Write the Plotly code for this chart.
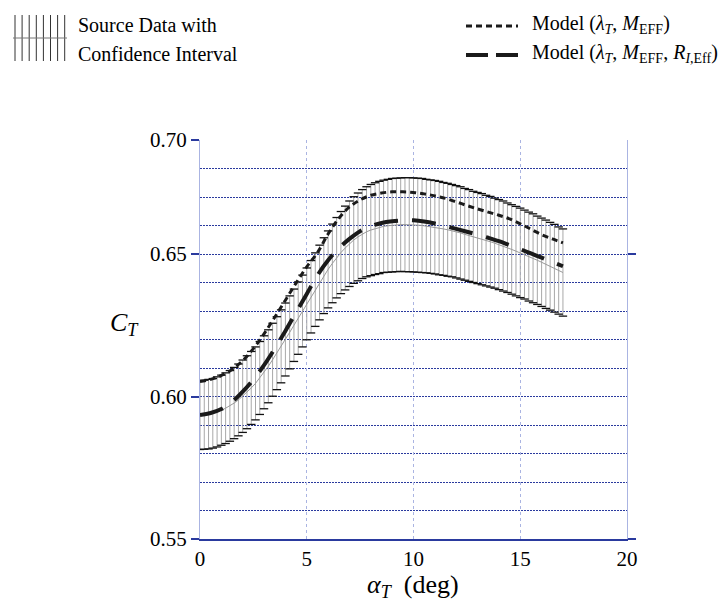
import plotly.graph_objects as go

# ---------------- data ----------------
alpha_src = [round(i * 0.2, 1) for i in range(86)]  # 0.0 ... 17.0 deg, step 0.2

ct_mean = [
    .5935, .5936, .5938, .5941, .5946, .5952, .5959, .5967, .5977, .5988,
    .6001, .6015, .6030, .6046, .6065, .6085, .6106, .6129, .6152, .6176,
    .6200, .6225, .6250, .6275, .6300, .6325, .6350, .6375, .6400, .6424,
    .6446, .6467, .6487, .6505, .6521, .6536, .6549, .6560, .6570, .6578,
    .6584, .6589, .6593, .6597, .6599, .6601, .6602, .6603, .6603, .6603,
    .6602, .6601, .6600, .6598, .6596, .6594, .6591, .6588, .6585, .6582,
    .6578, .6574, .6569, .6565, .6560, .6556, .6552, .6547, .6543, .6538,
    .6533, .6528, .6522, .6516, .6510, .6504, .6498, .6491, .6485, .6478,
    .6471, .6464, .6457, .6450, .6442, .6435,
]
ct_upper = [
    .6056, .6057, .6060, .6063, .6069, .6075, .6083, .6091, .6102, .6114,
    .6128, .6143, .6158, .6174, .6193, .6213, .6234, .6257, .6280, .6304,
    .6328, .6353, .6377, .6402, .6426, .6451, .6477, .6504, .6531, .6557,
    .6581, .6605, .6628, .6649, .6668, .6686, .6701, .6714, .6726, .6736,
    .6744, .6750, .6755, .6759, .6762, .6765, .6766, .6767, .6768, .6768,
    .6767, .6766, .6765, .6762, .6760, .6758, .6755, .6751, .6748, .6744,
    .6740, .6736, .6730, .6726, .6720, .6716, .6712, .6706, .6702, .6696,
    .6691, .6686, .6679, .6673, .6667, .6661, .6654, .6647, .6641, .6633,
    .6626, .6619, .6611, .6604, .6595, .6588,
]
ct_lower = [
    .5814, .5815, .5816, .5819, .5823, .5829, .5835, .5843, .5852, .5862,
    .5874, .5887, .5902, .5918, .5937, .5957, .5978, .6001, .6024, .6048,
    .6072, .6097, .6123, .6148, .6174, .6199, .6223, .6246, .6269, .6291,
    .6311, .6329, .6346, .6361, .6374, .6386, .6397, .6406, .6414, .6420,
    .6424, .6428, .6431, .6435, .6436, .6437, .6438, .6439, .6438, .6438,
    .6437, .6436, .6435, .6434, .6432, .6430, .6427, .6425, .6422, .6420,
    .6416, .6412, .6408, .6404, .6400, .6396, .6392, .6388, .6384, .6380,
    .6375, .6370, .6365, .6359, .6353, .6347, .6342, .6335, .6329, .6323,
    .6316, .6309, .6303, .6296, .6289, .6282,
]

alpha_model = [i * 0.5 for i in range(35)]  # 0 ... 17 deg
ct_model_1 = [  # Model (lambda_T, M_EFF)
    .6053, .6060, .6074, .6095, .6126, .6168, .6220, .6278, .6338, .6398,
    .6455, .6505, .6570, .6625, .6665, .6690, .6706, .6714, .6718, .6718,
    .6716, .6711, .6704, .6695, .6683, .6670, .6658, .6647, .6636, .6623,
    .6606, .6587, .6568, .6553, .6539,
]
ct_model_2 = [  # Model (lambda_T, M_EFF, R_I,Eff)
    .5935, .5942, .5956, .5981, .6017, .6060, .6110, .6168, .6230, .6295,
    .6360, .6425, .6478, .6520, .6553, .6580, .6598, .6609, .6615, .6618,
    .6618, .6614, .6607, .6598, .6588, .6578, .6568, .6557, .6545, .6531,
    .6517, .6502, .6487, .6472, .6457,
]

x_ticks = [0, 5, 10, 15, 20]
y_tickvals = [0.55, 0.60, 0.65, 0.69]
y_ticktext = ["0.55", "0.60", "0.65", "0.70"]

# ---------------- styling ----------------
SERIF = "Liberation Serif, Times New Roman, serif"
BLUE = "#2a3a9e"
LIGHTBLUE = "#aab4e2"
W, H = 728, 603
L, R, T, B = 192, 619, 132, 531   # plot area in pixels


def px(xp):
    return (xp - L) / (R - L)


def py(yp):
    return (B - yp) / (B - T)


fig = go.Figure()

# confidence interval bars
fig.add_trace(go.Scatter(
    x=alpha_src, y=ct_mean, mode="markers",
    marker=dict(size=1, opacity=0),
    error_y=dict(type="data", symmetric=False,
                 array=[u - m for u, m in zip(ct_upper, ct_mean)],
                 arrayminus=[m - l for m, l in zip(ct_mean, ct_lower)],
                 color="#a8a8a8", thickness=1, width=0),
    showlegend=False, hoverinfo="skip"))
# caps
for arr in (ct_upper, ct_lower):
    fig.add_trace(go.Scatter(
        x=alpha_src, y=arr, mode="markers",
        marker=dict(symbol="line-ew", size=6, line=dict(width=1.3, color="#111")),
        showlegend=False, hoverinfo="skip"))
# source mean line
fig.add_trace(go.Scatter(x=alpha_src, y=ct_mean, mode="lines",
                         line=dict(color="#999999", width=1),
                         showlegend=False))
# models
fig.add_trace(go.Scatter(x=alpha_model, y=ct_model_1, mode="lines",
                         line=dict(color="#1a1a1a", width=3, dash="6px,4px", shape="spline"),
                         showlegend=False))
fig.add_trace(go.Scatter(x=alpha_model, y=ct_model_2, mode="lines",
                         line=dict(color="#1a1a1a", width=4, dash="24px,14px", shape="spline"),
                         showlegend=False))
# right-side axis (border + ticks)
fig.add_trace(go.Scatter(x=[None], y=[None], yaxis="y2", showlegend=False))

fig.update_layout(
    width=W, height=H,
    margin=dict(l=L, r=W - R, t=T, b=H - B),
    paper_bgcolor="white", plot_bgcolor="white",
    font=dict(family=SERIF, size=21, color="black"),
    showlegend=False,
    xaxis=dict(range=[0, 20], tickvals=x_ticks, ticks="", showgrid=True,
               gridcolor=LIGHTBLUE, griddash="dot", gridwidth=1,
               showline=True, linecolor=BLUE, linewidth=1.5,
               zeroline=False, tickfont=dict(family=SERIF, size=21)),
    yaxis=dict(range=[0.55, 0.69], tickvals=y_tickvals, ticktext=y_ticktext,
               ticks="outside", ticklen=8, tickcolor=BLUE, tickwidth=1.5,
               showgrid=True, gridcolor=BLUE, griddash="2px,1px", gridwidth=1.3,
               minor=dict(tickmode="linear", tick0=0.55, dtick=0.01, showgrid=True,
                          gridcolor=BLUE, griddash="2px,1px", gridwidth=1.3, ticks=""),
               showline=True, linecolor=LIGHTBLUE, linewidth=1,
               zeroline=False, tickfont=dict(family=SERIF, size=21)),
    yaxis2=dict(range=[0.55, 0.69], overlaying="y", side="right", anchor="x",
                tickvals=[0.55, 0.65], showticklabels=False,
                ticks="outside", ticklen=8, tickcolor=BLUE, tickwidth=1.5,
                showgrid=False, showline=True, linecolor=LIGHTBLUE, linewidth=1,
                zeroline=False),
)

ann = []
# axis titles
ann.append(dict(x=px(116), y=py(316), xref="paper", yref="paper",
                text="<i>C</i><sub><i>T</i></sub>", showarrow=False,
                font=dict(family=SERIF, size=26), xanchor="center", yanchor="middle"))
ann.append(dict(x=px(405), y=py(578), xref="paper", yref="paper",
                text="<i>α</i><sub><i>T</i></sub>  (deg)", showarrow=False,
                font=dict(family=SERIF, size=26), xanchor="center", yanchor="middle"))
# legend texts
leg_font = dict(family=SERIF, size=20, color="black")
ann.append(dict(x=px(68), y=py(17), xref="paper", yref="paper", text="Source Data with",
                showarrow=False, font=leg_font, xanchor="left", yanchor="middle"))
ann.append(dict(x=px(68), y=py(46), xref="paper", yref="paper", text="Confidence Interval",
                showarrow=False, font=leg_font, xanchor="left", yanchor="middle"))
ann.append(dict(x=px(522), y=py(17), xref="paper", yref="paper",
                text="Model (<i>λ</i><sub><i>T</i></sub>, <i>M</i><sub>EFF</sub>)",
                showarrow=False, font=leg_font, xanchor="left", yanchor="middle"))
ann.append(dict(x=px(522), y=py(46), xref="paper", yref="paper",
                text="Model (<i>λ</i><sub><i>T</i></sub>, <i>M</i><sub>EFF</sub>, <i>R</i><sub><i>I</i>,Eff</sub>)",
                showarrow=False, font=leg_font, xanchor="left", yanchor="middle"))
fig.update_layout(annotations=ann)

shapes = []
# legend symbol: bars with confidence interval
for k in range(8):
    xx = 7 + k * 7.1
    shapes.append(dict(type="line", xref="paper", yref="paper",
                       x0=px(xx), x1=px(xx), y0=py(7), y1=py(53),
                       line=dict(color="#333", width=1)))
shapes.append(dict(type="line", xref="paper", yref="paper",
                   x0=px(5), x1=px(59), y0=py(30), y1=py(30),
                   line=dict(color="#777", width=1)))
# legend symbols: model lines
shapes.append(dict(type="line", xref="paper", yref="paper",
                   x0=px(458), x1=px(510), y0=py(18), y1=py(18),
                   line=dict(color="#1a1a1a", width=3, dash="6px,4px")))
shapes.append(dict(type="line", xref="paper", yref="paper",
                   x0=px(458), x1=px(510), y0=py(47), y1=py(47),
                   line=dict(color="#1a1a1a", width=4, dash="22px,8px")))
fig.update_layout(shapes=shapes)

fig.write_html("out.html")
